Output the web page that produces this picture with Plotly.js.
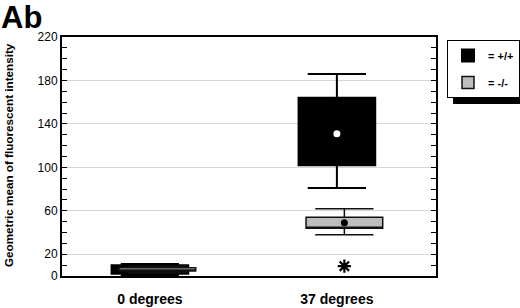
<!DOCTYPE html>
<html>
<head>
<meta charset="utf-8">
<script src="https://cdn.plot.ly/plotly-3.0.1.min.js"></script>
<style>html,body{margin:0;padding:0;background:#fff;}#chart{width:520px;height:308px;}</style>
</head>
<body>
<div id="chart"></div>
<script>
// ---- data ----
const categories = ['0 degrees', '37 degrees'];
const seriesNames = ['= +/+', '= -/-'];

// +/+ series
const wtLower = [1, 81];
const wtQ1    = [2, 102];
const wtQ3    = [10, 164];
const wtUpper = [11, 186];
const wtMean  = [6, 131];

// -/- series
const koLower = [3, 38];
const koQ1    = [4.5, 44];
const koQ3    = [7.5, 54];
const koUpper = [9, 62];
const koMean  = [6, 49];

// -/- outlier (asterisk)
const koOutlierCat = ['37 degrees'];
const koOutlierVal = [9];

const yTickVals = [0, 20, 60, 100, 140, 180, 220];

// ---- drawing ----
const catPos = categories.map((c, i) => i);
const shift = 0.04; // small horizontal offset of the -/- boxes
const koPos = catPos.map(p => p + shift);
const outPos = koOutlierCat.map(c => categories.indexOf(c) + shift);

const BOXW = 0.41;
const traces = [
  {
    type: 'box', name: seriesNames[0], legendgroup: 'a', x: catPos,
    q1: wtQ1, median: wtQ1, q3: wtQ3, lowerfence: wtLower, upperfence: wtUpper,
    width: BOXW, whiskerwidth: 0.76,
    fillcolor: '#000000', line: {color: '#000000', width: 2},
    boxpoints: false, hoverinfo: 'skip'
  },
  {
    type: 'box', name: seriesNames[1], legendgroup: 'b', x: koPos,
    q1: koQ1, median: koQ1, q3: koQ3, lowerfence: koLower, upperfence: koUpper,
    width: BOXW, whiskerwidth: 0.76,
    fillcolor: '#bdbdbd', line: {color: '#111111', width: 1.5},
    boxpoints: false, hoverinfo: 'skip'
  },
  {
    type: 'scatter', mode: 'markers', x: catPos.slice(1), y: wtMean.slice(1),
    marker: {color: '#ffffff', size: 7}, showlegend: false, hoverinfo: 'skip'
  },
  {
    type: 'scatter', mode: 'markers', x: koPos.slice(1), y: koMean.slice(1),
    marker: {color: '#000000', size: 7}, showlegend: false, hoverinfo: 'skip'
  },
  {
    type: 'scatter', mode: 'markers', x: outPos, y: koOutlierVal,
    marker: {symbol: 'asterisk-open', size: 11, color: '#000000', line: {color: '#000000', width: 2.2}},
    showlegend: false, hoverinfo: 'skip'
  }
];

const layout = {
  width: 520, height: 308,
  margin: {l: 62, r: 84, t: 37, b: 32, autoexpand: false},
  paper_bgcolor: '#ffffff', plot_bgcolor: '#ffffff',
  font: {family: 'Liberation Sans, Arial, sans-serif', color: '#000000'},
  title: {
    text: '<b>Ab</b>', font: {size: 31, color: '#000000'},
    x: 0.002, xref: 'container', xanchor: 'left',
    y: 0.945, yref: 'container', yanchor: 'middle', pad: {t: 0, l: 0, b: 0, r: 0}
  },
  showlegend: true,
  boxmode: 'overlay',
  xaxis: {
    range: [-0.47, 1.53],
    tickvals: catPos, ticktext: categories,
    tickfont: {size: 14, color: '#000000', weight: 'bold'},
    ticks: '', ticklabelstandoff: 9,
    showline: true, linecolor: '#000000', linewidth: 2, mirror: true,
    showgrid: false, zeroline: false
  },
  yaxis: {
    range: [0, 220],
    tickmode: 'array', tickvals: yTickVals,
    tickfont: {size: 12, color: '#000000'},
    ticks: 'inside', ticklen: 5, tickcolor: '#000000', tickwidth: 1,
    minor: {tickmode: 'linear', tick0: 0, dtick: 10, ticks: 'inside', ticklen: 5, tickcolor: '#000000', showgrid: false},
    showline: true, linecolor: '#000000', linewidth: 2, mirror: 'allticks',
    showgrid: true, gridcolor: '#d6d6d6', gridwidth: 1,
    zeroline: false
  },
  legend: {
    x: 1.0294, xanchor: 'left', y: 0.987, yanchor: 'top',
    bgcolor: '#ffffff', bordercolor: '#000000', borderwidth: 1,
    font: {size: 11, color: '#000000', weight: 'bold'},
    itemwidth: 30, tracegroupgap: 8, traceorder: 'grouped'
  },
  shapes: [
    {type: 'rect', xref: 'paper', yref: 'paper', x0: 1.0455, x1: 1.25, y0: 0.7197, y1: 0.962,
     fillcolor: '#000000', line: {width: 0}, layer: 'above'}
  ],
  annotations: [
    {text: '<b>Geometric mean of fluorescent intensity</b>', textangle: -90,
     xref: 'paper', yref: 'paper', x: -0.1444, y: 0.506, xanchor: 'center', yanchor: 'middle',
     showarrow: false, font: {size: 11.7, color: '#000000'}}
  ]
};

Plotly.newPlot('chart', traces, layout, {displayModeBar: false, staticPlot: true});
</script>
</body>
</html>
